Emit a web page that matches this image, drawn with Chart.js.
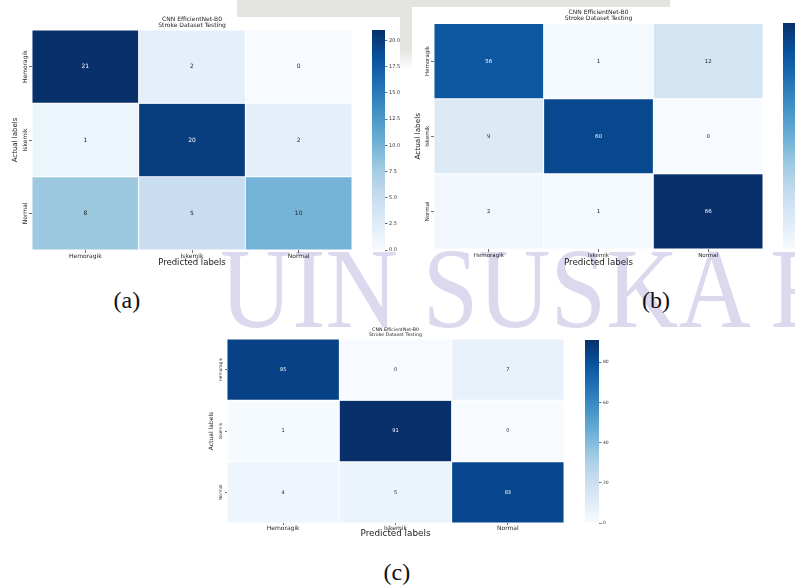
<!DOCTYPE html>
<html>
<head>
<meta charset="utf-8">
<script src="https://cdn.jsdelivr.net/npm/chart.js@4.4.0/dist/chart.umd.min.js"></script>
<style>
  html, body { margin: 0; padding: 0; background: #fff; width: 795px; height: 585px; overflow: hidden; }
  #stage { position: relative; width: 795px; height: 585px; overflow: hidden; background: #fff; }
  .sheet { position: absolute; }
  .cap { position: absolute; font-family: 'Liberation Serif', 'Times New Roman', serif; font-size: 24px; line-height: 24px; color: #111; white-space: nowrap; }
  #mark {
    position: absolute; left: 220px; top: 244.25px; white-space: nowrap;
    font-family: 'Liberation Serif', 'Times New Roman', serif; font-size: 100px; line-height: 100px;
    color: rgb(220, 216, 238); mix-blend-mode: multiply; pointer-events: none;
    transform-origin: 0 83.75px; transform: scaleY(1.15);
  }
</style>
</head>
<body>
<div id="stage">
  <div class="sheet" style="left:237px;top:0;width:433px;height:17px;background:#e3e4df"></div>
  <div class="sheet" style="left:400px;top:0;width:12px;height:70px;background:linear-gradient(#e3e4df 70%, #fff)"></div>
  <div class="sheet" style="left:0;top:17px;width:400px;height:250px;background:#fff"></div>
  <div class="sheet" style="left:412px;top:7px;width:383px;height:262px;background:#fff"></div>
  <div class="sheet" style="left:190px;top:328px;width:420px;height:218px;background:#fff"></div>
</div>
<script>
// Class names shared by both axes of every confusion matrix
const classLabels = ['Hemoragik', 'Iskemik', 'Normal'];
const titleLines = ['CNN EfficientNet-B0', 'Stroke Dataset Testing'];

// Confusion-matrix counts (rows = actual, columns = predicted)
const countsA = [[21, 2, 0], [1, 20, 2], [8, 5, 10]];
const countsB = [[56, 1, 12], [9, 60, 0], [2, 1, 66]];
const countsC = [[85, 0, 7], [1, 91, 0], [4, 5, 83]];

// Colour-bar tick spacing and label decimals
const colorbarStepA = 2.5, colorbarDecA = 1;
const colorbarStepB = 10, colorbarDecB = 0;
const colorbarStepC = 20, colorbarDecC = 0;

const panelCaptions = ['(a)', '(b)', '(c)'];

const FAMILY = "'DejaVu Sans', sans-serif";
const BLUES = ['#f7fbff', '#deebf7', '#c6dbef', '#9ecae1', '#6baed6', '#4292c6', '#2171b5', '#08519c', '#08306b'];

function hexRgb(h) { const n = parseInt(h.slice(1), 16); return [(n >> 16) & 255, (n >> 8) & 255, n & 255]; }
function blues(t) {
  t = Math.max(0, Math.min(1, t));
  const p = t * 8, i = Math.min(7, Math.floor(p)), f = p - i;
  const a = hexRgb(BLUES[i]), b = hexRgb(BLUES[i + 1]);
  return a.map((v, k) => Math.round(v + (b[k] - v) * f));
}
function rgbStr(c) { return `rgb(${c[0]},${c[1]},${c[2]})`; }
function luminance(c) {
  const l = c.map(v => { v /= 255; return v <= 0.03928 ? v / 12.92 : Math.pow((v + 0.055) / 1.055, 2.4); });
  return 0.2126 * l[0] + 0.7152 * l[1] + 0.0722 * l[2];
}

const stage = document.getElementById('stage');
function addCanvas(x, y, w, h) {
  const c = document.createElement('canvas');
  c.width = w; c.height = h;
  c.style.cssText = `position:absolute;left:${x}px;top:${y}px;width:${w}px;height:${h}px;`;
  stage.appendChild(c);
  return c;
}
function addCaption(text, cx, cy) {
  const d = document.createElement('div');
  d.className = 'cap'; d.textContent = text;
  stage.appendChild(d);
  d.style.left = (cx - d.offsetWidth / 2) + 'px';
  d.style.top = (cy - 12) + 'px';
}

const measureCtx = document.createElement('canvas').getContext('2d');

function heatmap(canvas, counts, L) {
  const vmax = Math.max(...counts.flat());
  measureCtx.font = `${L.ytick}px ${FAMILY}`;
  const widest = Math.max(...classLabels.map(s => measureCtx.measureText(s).width));

  const cellText = {
    id: 'cellText',
    afterDatasetsDraw(chart) {
      const ctx = chart.ctx;
      ctx.save();
      ctx.font = `${L.cell}px ${FAMILY}`;
      ctx.textAlign = 'center';
      ctx.textBaseline = 'middle';
      chart.data.datasets.forEach((ds, r) => {
        chart.getDatasetMeta(r).data.forEach((bar, c) => {
          const v = counts[r][c];
          const p = bar.getCenterPoint();
          ctx.fillStyle = luminance(blues(v / vmax)) > 0.408 ? '#262626' : '#ffffff';
          ctx.fillText(String(v), p.x, p.y);
        });
      });
      ctx.restore();
    }
  };

  return new Chart(canvas, {
    type: 'bar',
    data: {
      labels: classLabels,
      datasets: counts.map((row, r) => ({
        label: classLabels[r],
        data: row.map(() => [r, r + 1]),
        backgroundColor: row.map(v => rgbStr(blues(v / vmax))),
        borderColor: 'rgba(255,255,255,0.8)',
        borderWidth: 0.8,
        borderSkipped: false,
        barPercentage: 1,
        categoryPercentage: 1,
        grouped: false
      }))
    },
    options: {
      responsive: false,
      animation: false,
      events: [],
      layout: { padding: L.pad },
      plugins: {
        legend: { display: false },
        tooltip: { enabled: false },
        title: {
          display: true, text: titleLines, fullSize: false, color: '#222',
          font: { family: FAMILY, size: L.title, lineHeight: 1, weight: 'normal' },
          padding: { top: 0, bottom: 2 }
        }
      },
      scales: {
        x: {
          grid: { display: true, drawOnChartArea: false, offset: false, tickLength: L.tl, color: '#333', lineWidth: 0.7 },
          border: { display: false },
          ticks: { font: { family: FAMILY, size: L.xtick }, color: '#262626', padding: 0, maxRotation: 0, autoSkip: false },
          title: {
            display: true, text: 'Predicted labels', color: '#222',
            font: { family: FAMILY, size: L.xlab, lineHeight: 1.2 },
            padding: { top: 0, bottom: L.xlabPad }
          },
          afterFit: s => { s.height = L.xh; }
        },
        y: {
          type: 'linear', min: 0, max: 3, reverse: true,
          afterBuildTicks: s => { s.ticks = classLabels.map((_, i) => ({ value: i + 0.5 })); },
          grid: { display: true, drawOnChartArea: false, tickLength: L.tl, color: '#333', lineWidth: 0.7 },
          border: { display: false },
          ticks: {
            font: { family: FAMILY, size: L.ytick }, color: '#262626',
            minRotation: 90, maxRotation: 90, crossAlign: 'center',
            padding: L.ygap - widest / 2,
            callback: (v, i) => classLabels[i]
          },
          title: {
            display: true, text: 'Actual labels', color: '#222',
            font: { family: FAMILY, size: L.ylab, lineHeight: 1.2 },
            padding: { top: L.ylabPad, bottom: 0 }
          },
          afterFit: s => { s.width = L.yw; }
        }
      }
    },
    plugins: [cellText]
  });
}

function colorbar(canvas, counts, step, dec, L) {
  const vmax = Math.max(...counts.flat());
  return new Chart(canvas, {
    type: 'bar',
    data: {
      labels: [''],
      datasets: [{
        data: [[0, vmax]],
        backgroundColor: ctx => {
          const a = ctx.chart.chartArea;
          if (!a) return BLUES[4];
          const g = ctx.chart.ctx.createLinearGradient(0, a.bottom, 0, a.top);
          BLUES.forEach((c, i) => g.addColorStop(i / 8, c));
          return g;
        },
        borderWidth: 0,
        barPercentage: 1,
        categoryPercentage: 1
      }]
    },
    options: {
      responsive: false,
      animation: false,
      events: [],
      layout: { padding: L.pad },
      plugins: { legend: { display: false }, tooltip: { enabled: false } },
      scales: {
        x: { display: false },
        y: {
          position: 'right', min: 0, max: vmax,
          grid: { drawOnChartArea: false, tickLength: 2.5, color: '#333', lineWidth: 0.7 },
          border: { display: false },
          ticks: {
            stepSize: step, includeBounds: false, padding: 1.5,
            font: { family: FAMILY, size: L.font }, color: '#333',
            callback: v => Number(v).toFixed(dec)
          },
          afterFit: s => { s.width = L.yw; }
        }
      }
    }
  });
}

// (a)
heatmap(addCanvas(0, 0, 372, 275), countsA, {
  pad: { left: 4, right: 20, top: 16, bottom: 5 }, yw: 28, xh: 20,
  title: 6, xtick: 6, ytick: 6, cell: 6, tl: 3,
  xlab: 8.5, xlabPad: 2.4, ylab: 7, ylabPad: 6.8, ygap: 4
});
colorbar(addCanvas(368, 0, 36, 275), countsA, colorbarStepA, colorbarDecA, {
  pad: { left: 4, right: 0, top: 30, bottom: 25 }, yw: 19, font: 5
});

// (b)
heatmap(addCanvas(400, 0, 380, 275), countsB, {
  pad: { left: 4, right: 17, top: 9.5, bottom: 6 }, yw: 30, xh: 20,
  title: 6, xtick: 5.5, ytick: 5.5, cell: 5.5, tl: 3,
  xlab: 8.7, xlabPad: 0.8, ylab: 7.3, ylabPad: 9.6, ygap: 3
});
colorbar(addCanvas(779, 0, 50, 275), countsB, colorbarStepB, colorbarDecB, {
  pad: { left: 4, right: 0, top: 23, bottom: 26 }, yw: 33, font: 5
});

// (c)
heatmap(addCanvas(190, 320, 390, 225), countsC, {
  pad: { left: 4, right: 16, top: 7.6, bottom: 2 }, yw: 33, xh: 20,
  title: 4.7, xtick: 6, ytick: 4.3, cell: 5, tl: 2,
  xlab: 8.8, xlabPad: 3.7, ylab: 6, ylabPad: 13.4, ygap: 4
});
colorbar(addCanvas(581, 320, 40, 225), countsC, colorbarStepC, colorbarDecC, {
  pad: { left: 4, right: 0, top: 20, bottom: 22 }, yw: 22, font: 4.5
});

addCaption(panelCaptions[0], 127, 300);
addCaption(panelCaptions[1], 656, 300);
addCaption(panelCaptions[2], 397, 572);

// Institutional watermark across the page
const mark = document.createElement('div');
mark.id = 'mark';
mark.textContent = 'UIN SUSKA RIAU';
stage.appendChild(mark);
</script>
</body>
</html>
